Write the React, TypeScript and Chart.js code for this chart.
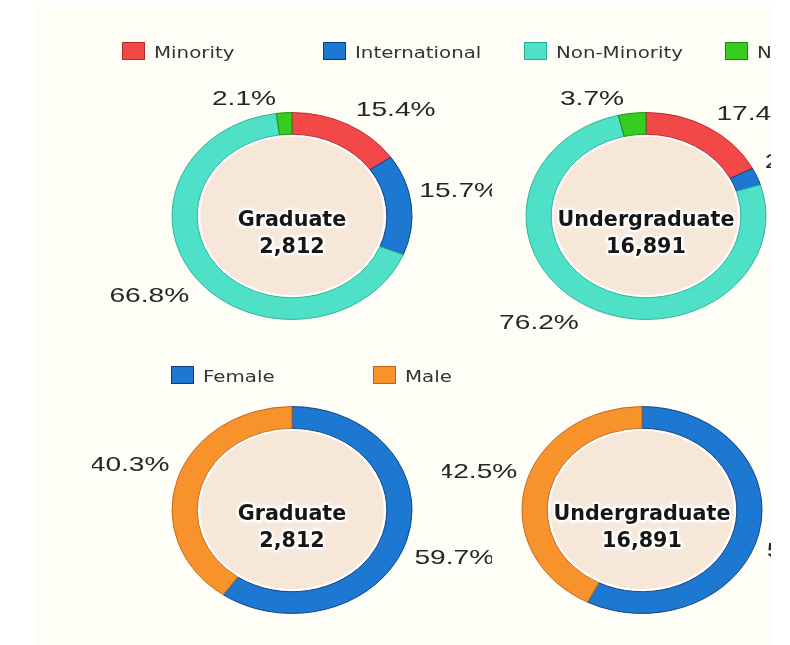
import React, { useEffect, useRef } from "react";
import { Chart, registerables } from "chart.js";

Chart.register(...registerables);

// ---------- data ----------
const raceCategories = ["Minority", "International", "Non-Minority", "Not Reported"];
const genderCategories = ["Female", "Male"];
const levels = ["Graduate", "Undergraduate"];
const headcounts = [2812, 16891];
const raceGraduatePct = [15.4, 15.7, 66.8, 2.1];
const raceUndergraduatePct = [17.4, 2.7, 76.2, 3.7];
const genderGraduatePct = [59.7, 40.3];
const genderUndergraduatePct = [57.5, 42.5];

// ---------- styles ----------
const raceColors = ["#F24848", "#1D78D2", "#4FE1C7", "#36CC20"];
const raceBorders = ["#B02A2A", "#0C3C7E", "#2BAE95", "#1E8612"];
const genderColors = ["#1D78D2", "#F8922B"];
const genderBorders = ["#0C3C7E", "#BF6418"];

const SQUISH = 0.862; // vertical / horizontal ratio of the rings
const PCT_FONT = "21px 'Liberation Sans', Arial, sans-serif";
const PCT_SX = 1.34;
const PCT_H = 15;
const CENTER_FONT = "bold 22px 'DejaVu Sans', Verdana, sans-serif";
const CENTER_SX = 0.94;

const donutPlugin = {
  id: "donutDecor",
  beforeDatasetsDraw(chart: any) {
    const { ctx, chartArea } = chart;
    const cx = (chartArea.left + chartArea.right) / 2;
    const cy = (chartArea.top + chartArea.bottom) / 2;
    const arc = chart.getDatasetMeta(0).data[0] as any;
    const inner = arc.innerRadius;
    ctx.save();
    ctx.translate(cx, cy);
    ctx.scale(1, SQUISH);
    ctx.translate(-cx, -cy);
    ctx.beginPath();
    ctx.arc(cx, cy, inner - 1.5, 0, Math.PI * 2);
    ctx.fillStyle = "#F6E7D8";
    ctx.fill();
    ctx.lineWidth = 3;
    ctx.strokeStyle = "#FFFFFF";
    ctx.stroke();
  },
  afterDatasetsDraw(chart: any, _args: any, opts: any) {
    const { ctx, chartArea } = chart;
    ctx.restore();
    const cx = (chartArea.left + chartArea.right) / 2;
    const cy = (chartArea.top + chartArea.bottom) / 2;
    const meta = chart.getDatasetMeta(0);
    const values = chart.data.datasets[0].data as number[];

    // percentage labels
    ctx.save();
    ctx.font = PCT_FONT;
    ctx.fillStyle = "#262626";
    ctx.textAlign = "left";
    ctx.textBaseline = "alphabetic";
    meta.data.forEach((el: any, i: number) => {
      const p = el.getProps(["x", "y", "startAngle", "endAngle", "outerRadius"], true);
      const mid = (p.startAngle + p.endAngle) / 2;
      const ax = p.x + p.outerRadius * Math.cos(mid);
      const ay = p.y + p.outerRadius * Math.sin(mid) * SQUISH;
      const text = values[i].toFixed(1) + "%";
      const w = ctx.measureText(text).width * PCT_SX;
      const left = Math.cos(mid) >= 0 ? ax + 8 : ax - 8 - w;
      const baseline = Math.sin(mid) <= 0 ? ay - 8 : ay + 8 + PCT_H;
      ctx.save();
      ctx.translate(left, baseline);
      ctx.scale(PCT_SX, 1);
      ctx.fillText(text, 0, 0);
      ctx.restore();
    });
    ctx.restore();

    // center text with white halo
    const lines = [opts.title, opts.total];
    const baselines = [cy + 9.5, cy + 37];
    ctx.save();
    ctx.font = CENTER_FONT;
    ctx.textAlign = "center";
    ctx.textBaseline = "alphabetic";
    lines.forEach((t: string, i: number) => {
      ctx.save();
      ctx.translate(cx, baselines[i]);
      ctx.scale(CENTER_SX, 1);
      ctx.lineJoin = "round";
      ctx.shadowColor = "rgba(255,255,255,0.95)";
      ctx.shadowBlur = 4;
      ctx.strokeStyle = "rgba(255,255,255,0.9)";
      ctx.lineWidth = 4;
      ctx.strokeText(t, 0, 0);
      ctx.shadowBlur = 0;
      ctx.fillStyle = "#161616";
      ctx.fillText(t, 0, 0);
      ctx.restore();
    });
    ctx.restore();
  },
};

type DonutProps = {
  labels: string[];
  values: number[];
  colors: string[];
  borders: string[];
  title: string;
  total: string;
  left: number;
  top: number;
};

function Donut({ labels, values, colors, borders, title, total, left, top }: DonutProps) {
  const ref = useRef<HTMLCanvasElement>(null);
  useEffect(() => {
    const chart = new Chart(ref.current as HTMLCanvasElement, {
      type: "doughnut",
      data: {
        labels,
        datasets: [
          {
            data: values,
            backgroundColor: colors,
            borderColor: borders,
            borderWidth: 1,
          },
        ],
      },
      options: {
        responsive: false,
        animation: false,
        events: [],
        radius: 120,
        cutout: "79%",
        layout: { padding: 0 },
        plugins: {
          legend: { display: false },
          tooltip: { enabled: false },
          donutDecor: { title, total },
        } as any,
      } as any,
      plugins: [donutPlugin as any],
    });
    return () => chart.destroy();
  }, []);
  return (
    <canvas
      ref={ref}
      width={400}
      height={320}
      style={{ position: "absolute", left, top, width: 400, height: 320 }}
    />
  );
}

function LegendRow({
  items,
  colors,
  borders,
  left,
  top,
  step,
}: {
  items: string[];
  colors: string[];
  borders: string[];
  left: number;
  top: number;
  step: number;
}) {
  return (
    <>
      {items.map((name, i) => (
        <React.Fragment key={name}>
          <div
            style={{
              position: "absolute",
              left: left + step * i,
              top,
              width: 21,
              height: 16,
              background: colors[i],
              border: `1px solid ${borders[i]}`,
            }}
          />
          <div
            style={{
              position: "absolute",
              left: left + step * i + 32,
              top: top + 1,
              fontFamily: "'DejaVu Sans', Verdana, sans-serif",
              fontSize: "16.5px",
              lineHeight: "20px",
              color: "#333333",
              whiteSpace: "nowrap",
              transform: "scaleX(1.2)",
              transformOrigin: "left center",
            }}
          >
            {name}
          </div>
        </React.Fragment>
      ))}
    </>
  );
}

export default function App() {
  const fmt = (n: number) => n.toLocaleString("en-US");
  return (
    <div
      style={{
        position: "absolute",
        left: 0,
        top: 0,
        width: 790,
        height: 645,
        background: "#FFFFFF",
        overflow: "hidden",
      }}
    >
      <div
        style={{
          position: "absolute",
          left: 36,
          top: 5,
          width: 735,
          height: 640,
          background: "#FFFEF6",
          overflow: "hidden",
        }}
      >
        <Donut
          labels={raceCategories}
          values={raceGraduatePct}
          colors={raceColors}
          borders={raceBorders}
          title={levels[0]}
          total={fmt(headcounts[0])}
          left={56}
          top={51}
        />
        <Donut
          labels={raceCategories}
          values={raceUndergraduatePct}
          colors={raceColors}
          borders={raceBorders}
          title={levels[1]}
          total={fmt(headcounts[1])}
          left={410}
          top={51}
        />
        <Donut
          labels={genderCategories}
          values={genderGraduatePct}
          colors={genderColors}
          borders={genderBorders}
          title={levels[0]}
          total={fmt(headcounts[0])}
          left={56}
          top={345}
        />
        <Donut
          labels={genderCategories}
          values={genderUndergraduatePct}
          colors={genderColors}
          borders={genderBorders}
          title={levels[1]}
          total={fmt(headcounts[1])}
          left={406}
          top={345}
        />
        <LegendRow
          items={raceCategories}
          colors={raceColors}
          borders={raceBorders}
          left={86}
          top={37}
          step={201}
        />
        <LegendRow
          items={genderCategories}
          colors={genderColors}
          borders={genderBorders}
          left={135}
          top={361}
          step={202}
        />
      </div>
    </div>
  );
}
